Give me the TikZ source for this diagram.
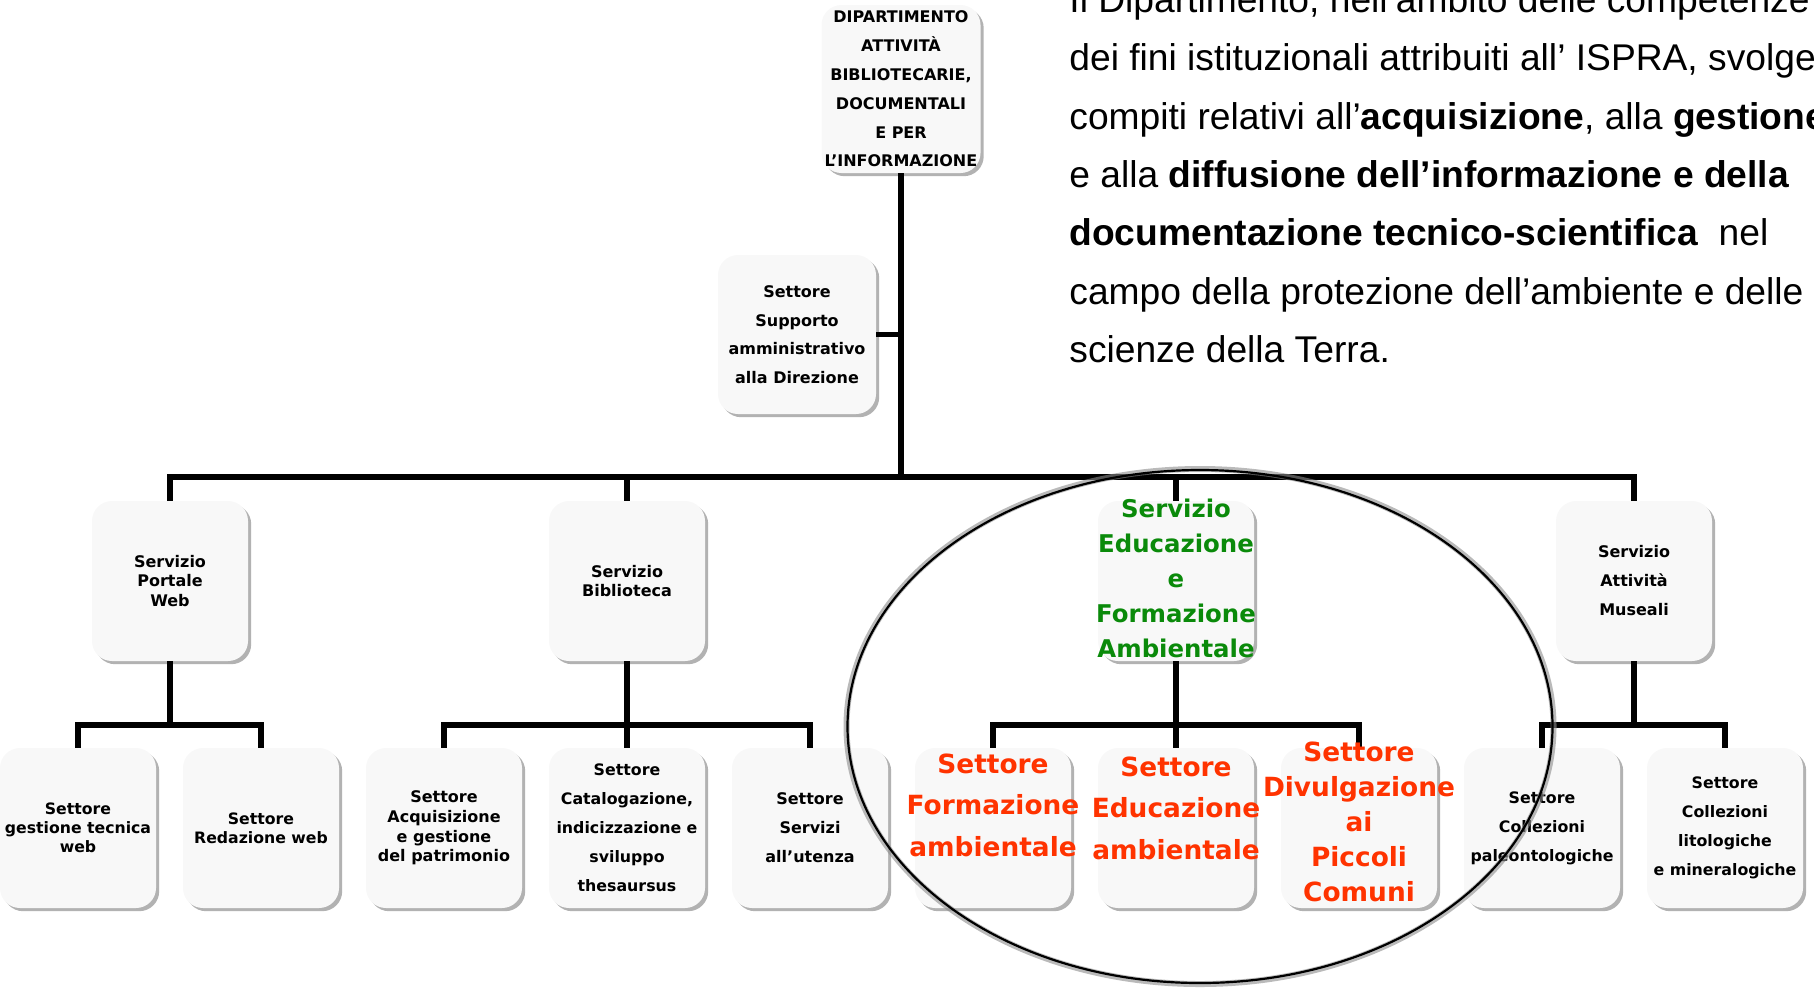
\documentclass[tikz,border=0pt]{standalone}
\usepackage{fontspec}
\setmainfont{Liberation Sans}
\newfontfamily\boxfont{DejaVu Sans}
\usetikzlibrary{shadows}
\definecolor{boxfill}{HTML}{F8F8F8}
\definecolor{greentxt}{HTML}{0A8A0A}
\definecolor{redtxt}{HTML}{FF3300}
\newcommand{\fsz}[2]{\fontsize{#1}{#2}\selectfont}
\begin{document}
\begin{tikzpicture}[x=0.5pt,y=-0.5pt,
  orgbox/.style={rounded corners=10pt, fill=boxfill, minimum width=78pt, minimum height=80pt, inner sep=0pt,
    drop shadow={shadow xshift=1.6pt, shadow yshift=-1.6pt, opacity=0.55, fill=black!55}},
  lab/.style={align=center, inner sep=0pt, text=black},
  small/.style={lab, font=\boxfont\bfseries\fsz{8}{9.85}},
  wide/.style={lab, font=\boxfont\bfseries\fsz{7.9}{14.5}},
  redlab/.style={lab, text=redtxt, font=\boxfont\bfseries\fsz{13.2}{20.8}},
  para/.style={anchor=base west, inner sep=0pt, font=\fsz{18.6}{29}},
  conn/.style={line width=2.6pt, black},
]
\useasboundingbox (0,0) rectangle (1814,987);

% ---- boxes ----
\node[orgbox, minimum width=79.5pt, minimum height=84pt] (top) at (901,89) {};
\node[orgbox, minimum width=79pt, minimum height=79.5pt] (sup) at (797,334.5) {};
\node[orgbox] (portale) at (170,581) {};
\node[orgbox] (biblio) at (627,581) {};
\node[orgbox] (educ) at (1176,581) {};
\node[orgbox] (musei) at (1634,581) {};
\node[orgbox] (s0) at (78,828) {};
\node[orgbox] (s1) at (261,828) {};
\node[orgbox] (s2) at (444,828) {};
\node[orgbox] (s3) at (627,828) {};
\node[orgbox] (s4) at (810,828) {};
\node[orgbox] (s5) at (993,828) {};
\node[orgbox] (s6) at (1176,828) {};
\node[orgbox] (s7) at (1359,828) {};
\node[orgbox] (s8) at (1542,828) {};
\node[orgbox] (s9) at (1725,828) {};

% ---- connectors ----
\coordinate (mb) at (901,477);
\coordinate (sb) at (0,725);
\draw[conn] (top.south) -- (top.south |- mb);
\draw[conn] (sup.east) -- (sup.east -| top.south);
\draw[conn] (portale.north) |- (musei.north |- mb) -- (musei.north);
\draw[conn] (biblio.north) -- (biblio.north |- mb);
\draw[conn] (educ.north) -- (educ.north |- mb);
\draw[conn] (portale.south) -- (portale.south |- sb);
\draw[conn] (s0.north) |- (s1.north |- sb) -- (s1.north);
\draw[conn] (biblio.south) -- (biblio.south |- sb);
\draw[conn] (s2.north) |- (s4.north |- sb) -- (s4.north);
\draw[conn] (s3.north) -- (s3.north |- sb);
\draw[conn] (educ.south) -- (educ.south |- sb);
\draw[conn] (s5.north) |- (s7.north |- sb) -- (s7.north);
\draw[conn] (s6.north) -- (s6.north |- sb);
\draw[conn] (musei.south) -- (musei.south |- sb);
\draw[conn] (s8.north) |- (s9.north |- sb) -- (s9.north);

% ---- box texts ----
\node[lab, font=\boxfont\bfseries\fsz{8}{14.4}] (ttop) at (top.center) {DIPARTIMENTO\\ATTIVITÀ\\BIBLIOTECARIE,\\DOCUMENTALI\\E PER\\L’INFORMAZIONE};
\node[lab, font=\boxfont\bfseries\fsz{8}{14.25}] (tsup) at (sup.center) {Settore\\Supporto\\amministrativo\\alla Direzione};
\node[small] (tportale) at (portale.center) {Servizio\\Portale\\Web};
\node[small] (tbiblio) at (biblio.center) {Servizio\\Biblioteca};
\node[lab, text=greentxt, font=\boxfont\bfseries\fsz{12.2}{17.5}] (teduc) at ([yshift=1.5pt]educ.center) {Servizio\\Educazione\\e\\Formazione\\Ambientale};
\node[wide, font=\boxfont\bfseries\fsz{8}{14.5}] (tmusei) at (musei.center) {Servizio\\Attività\\Museali};
\node[lab, font=\boxfont\bfseries\fsz{7.85}{9.5}] (t0) at (s0.center) {Settore\\gestione tecnica\\web};
\node[lab, font=\boxfont\bfseries\fsz{7.85}{9.5}] (t1) at (s1.center) {Settore\\Redazione web};
\node[small] (t2) at (s2.center) {Settore\\Acquisizione\\e gestione\\del patrimonio};
\node[wide] (t3) at (s3.center) {Settore\\Catalogazione,\\indicizzazione e\\sviluppo\\thesaursus};
\node[wide, font=\boxfont\bfseries\fsz{8}{14.5}] (t4) at (s4.center) {Settore\\Servizi\\all’utenza};
\node[redlab] (t5) at ([yshift=11.5pt]s5.center) {Settore\\Formazione\\ambientale};
\node[redlab] (t6) at ([yshift=10pt]s6.center) {Settore\\Educazione\\ambientale};
\node[redlab, font=\boxfont\bfseries\fsz{13.2}{17.5}] (t7) at ([yshift=3pt]s7.center) {Settore\\Divulgazione\\ai\\Piccoli\\Comuni};
\node[wide] (t8) at (s8.center) {Settore\\Collezioni\\paleontologiche};
\node[wide] (t9) at (s9.center) {Settore\\Collezioni\\litologiche\\e mineralogiche};

% ---- paragraph ----
\node[para] (p1) at (1069,12) {Il Dipartimento, nell’ambito delle competenze};
\node[para] (p2) at (1069,70) {dei fini istituzionali attribuiti all’ ISPRA, svolge};
\node[para] (p3) at (1069,129) {compiti relativi all’\textbf{acquisizione}, alla \textbf{gestione}};
\node[para] (p4) at (1069,187) {e alla \textbf{diffusione dell’informazione e della}};
\node[para] (p5) at (1069,245) {\textbf{documentazione tecnico-scientifica}\ \ nel};
\node[para] (p6) at (1069,304) {campo della protezione dell’ambiente e delle};
\node[para] (p7) at (1069,362) {scienze della Terra.};

% ---- highlight ellipse ----
\draw[black!45, line width=3pt, opacity=0.6] (1200,726.5) ellipse [x radius=353.5, y radius=257.5];
\draw[black, line width=1.1pt] (1200,726.5) ellipse [x radius=352.5, y radius=256.5];
\end{tikzpicture}
\end{document}
